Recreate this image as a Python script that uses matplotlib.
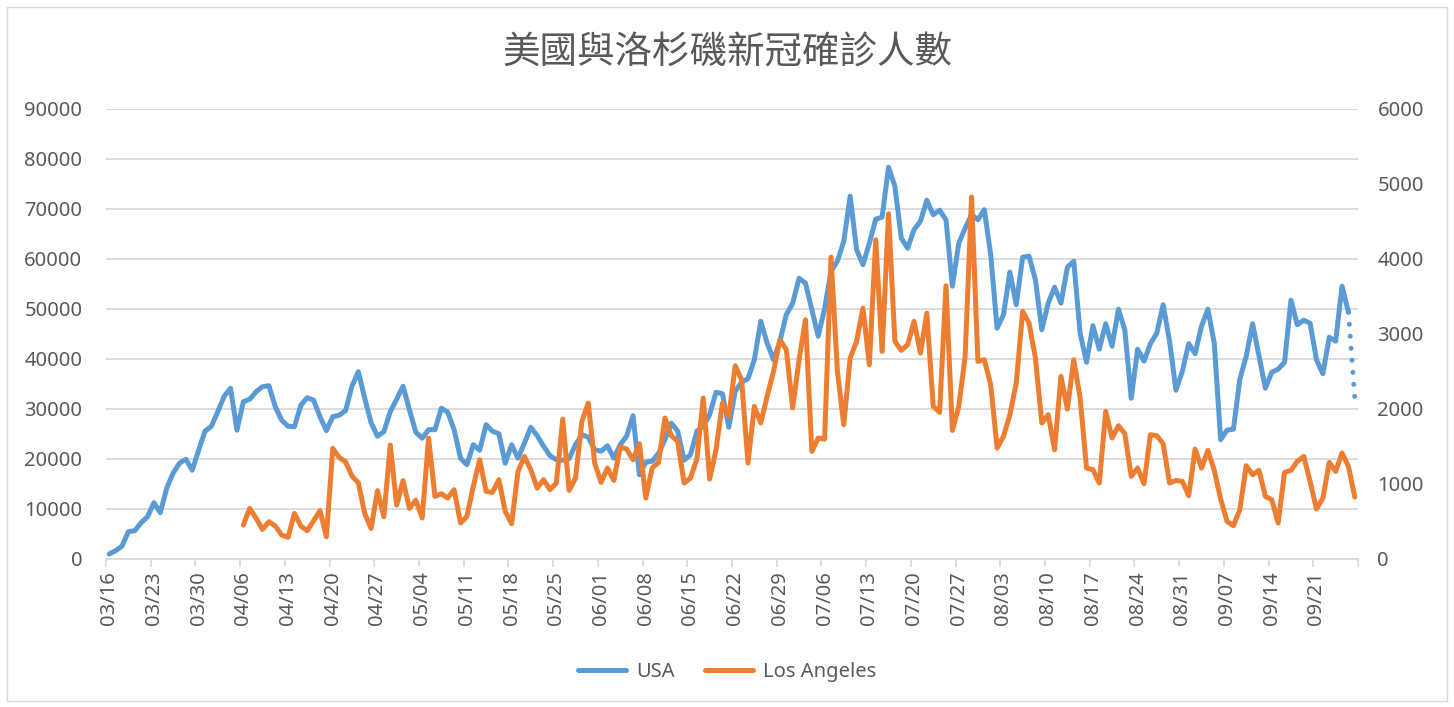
import numpy as np
import pandas as pd
import matplotlib
matplotlib.use("Agg")
import matplotlib.pyplot as plt
from matplotlib.patches import Rectangle

plt.rcParams['font.family'] = ['Noto Sans', 'Noto Sans CJK TC', 'DejaVu Sans']

# categories: one per day, 03/16 .. 09/27
dates = pd.date_range("2020-03-16", "2020-09-27").strftime("%m/%d").tolist()

# USA daily new cases (left axis), last day is provisional (dotted)
usa_cases = [
    930, 1600, 2500, 5400, 5600, 7200, 8400, 11200, 9200, 14100,
    17100, 19100, 19900, 17700, 21700, 25500, 26500, 29400, 32500, 34100,
    25700, 31400, 31900, 33400, 34400, 34600, 30400, 27700, 26500, 26400,
    30700, 32200, 31700, 28400, 25600, 28400, 28700, 29600, 34500, 37400,
    32100, 27200, 24500, 25400, 29400, 31900, 34500, 29800, 25300, 24100,
    25800, 25800, 30100, 29300, 25800, 20100, 18800, 22800, 21700, 26800,
    25500, 25000, 19100, 22800, 20100, 23100, 26300, 24600, 22500, 20600,
    19800, 19700, 20000, 22800, 24800, 24300, 21800, 21500, 22600, 20100,
    22800, 24500, 28600, 16800, 19300, 19500, 21100, 23800, 27100, 25500,
    19700, 20800, 25500, 26500, 28800, 33300, 33000, 26300, 33500, 35300,
    36000, 39800, 47500, 43100, 39800, 43500, 48800, 51100, 56100, 55100,
    49800, 44500, 50000, 57500, 59500, 63500, 72500, 61800, 58800, 63100,
    67900, 68300, 78300, 74500, 64100, 62100, 65800, 67500, 71700, 68800,
    69700, 67800, 54500, 63100, 66100, 68800, 67800, 69800, 60800, 46100,
    48800, 57300, 50800, 60300, 60500, 55800, 45800, 51100, 54300, 51100,
    58300, 59500, 45100, 39300, 46600, 41900, 47000, 42500, 49900, 45700,
    32100, 41900, 39500, 43000, 45100, 50800, 43500, 33700, 37500, 43000,
    41000, 46500, 49900, 43100, 23800, 25700, 25900, 35900, 40500, 47000,
    40500, 34100, 37300, 37900, 39300, 51700, 46800, 47700, 47100, 39800,
    37000, 44300, 43500, 54500, 49300, 32100,
]

# Los Angeles daily new cases (right axis), from 04/06
la_start = "04/06"
la_cases = [
    449, 671, 538, 391, 493, 436, 316, 284, 604, 436,
    373, 507, 640, 293, 1471, 1351, 1293, 1102, 1013, 604,
    404, 907, 560, 1516, 716, 1040, 671, 780, 542, 1609,
    831, 867, 809, 920, 476, 564, 964, 1320, 898, 884,
    1053, 631, 467, 1164, 1364, 1187, 942, 1053, 920, 1009,
    1862, 911, 1075, 1831, 2075, 1275, 1018, 1209, 1044, 1489,
    1462, 1320, 1533, 809, 1209, 1284, 1875, 1640, 1564, 1009,
    1075, 1329, 2142, 1062, 1453, 2075, 1898, 2573, 2386, 1275,
    2031, 1809, 2164, 2497, 2920, 2786, 2009, 2653, 3186, 1431,
    1609, 1595, 4022, 2497, 1786, 2675, 2898, 3342, 2586, 4253,
    2764, 4600, 2898, 2778, 2853, 3164, 2742, 3275, 2031, 1951,
    3640, 1711, 2031, 2698, 4822, 2631, 2653, 2320, 1475, 1631,
    1920, 2342, 3298, 3142, 2675, 1809, 1920, 1453, 2431, 1995,
    2653, 2142, 1209, 1187, 1009, 1964, 1609, 1773, 1667, 1098,
    1209, 1000, 1653, 1640, 1533, 1009, 1044, 1031, 840, 1462,
    1209, 1444, 1178, 796, 498, 440, 653, 1240, 1120, 1178,
    831, 787, 476, 1151, 1178, 1298, 1364, 1031, 662, 809,
    1284, 1164, 1409, 1231, 822,
]

TEXT = "#595959"
GRID = "#D9D9D9"
BLUE = "#5B9BD5"
ORANGE = "#ED7D31"
LW = 3.6
FS = 14.5

fig = plt.figure(figsize=(14.54, 7.07), dpi=100)
fig.patches.append(Rectangle((7 / 1454, 6 / 707), 1440 / 1454, 694 / 707,
                             transform=fig.transFigure, fill=False,
                             edgecolor=GRID, lw=1))

ax = fig.add_axes([106 / 1454, 1 - 558.7 / 707, 1252 / 1454, 450 / 707])
ax2 = ax.twinx()

x = np.arange(len(dates))
n = len(usa_cases)
ax.plot(x[:n - 1], usa_cases[:-1], color=BLUE, lw=LW,
        solid_capstyle='round', solid_joinstyle='round', label='USA', zorder=3)
ax.plot(x[n - 2:n], usa_cases[-2:], color=BLUE, lw=LW,
        ls=(0, (0.01, 2.4)), dash_capstyle='round', zorder=3)

i0 = dates.index(la_start)
la_line, = ax2.plot(x[i0:i0 + len(la_cases)], la_cases, color=ORANGE, lw=LW,
                    solid_capstyle='round', solid_joinstyle='round',
                    label='Los Angeles')

ax.set_xlim(-0.5, len(dates) - 0.5)
ax.set_ylim(0, 90000)
ax2.set_ylim(0, 6000)
ax.set_yticks(np.arange(0, 90001, 10000))
ax2.set_yticks(np.arange(0, 6001, 1000))
ax.grid(axis='y', color=GRID, lw=1.3)
ax.set_axisbelow(True)

label_pos = x[::7]
ax.set_xticks(label_pos)
ax.set_xticklabels([dates[i] for i in label_pos], rotation=90)
ax.set_xticks(np.arange(-0.5, len(dates), 7), minor=True)
ax.tick_params(axis='x', which='major', length=0, pad=9, labelsize=FS, labelcolor=TEXT)
ax.tick_params(axis='x', which='minor', length=6, color=GRID, width=1.3)
ax.tick_params(axis='y', length=0, pad=17, labelsize=FS, labelcolor=TEXT)
ax2.tick_params(axis='y', length=0, pad=14, labelsize=FS, labelcolor=TEXT)

for a in (ax, ax2):
    for side in ('top', 'left', 'right'):
        a.spines[side].set_visible(False)
ax2.spines['bottom'].set_visible(False)
ax.spines['bottom'].set_color(GRID)
ax.spines['bottom'].set_linewidth(1.3)

fig.text(0.5, 0.925, "美國與洛杉磯新冠確診人數", ha='center', va='center',
         fontsize=27, color=TEXT, fontweight='light',
         family=['Noto Sans CJK TC', 'DejaVu Sans'])

usa_handle = ax.get_lines()[0]
fig.legend([usa_handle, la_line], ['USA', 'Los Angeles'], loc='center',
           bbox_to_anchor=(0.5, 0.05), ncol=2, frameon=False, fontsize=FS,
           labelcolor=TEXT, handlelength=2.4, handletextpad=0.5, columnspacing=1.5)

fig.savefig("out.png", dpi=100)
